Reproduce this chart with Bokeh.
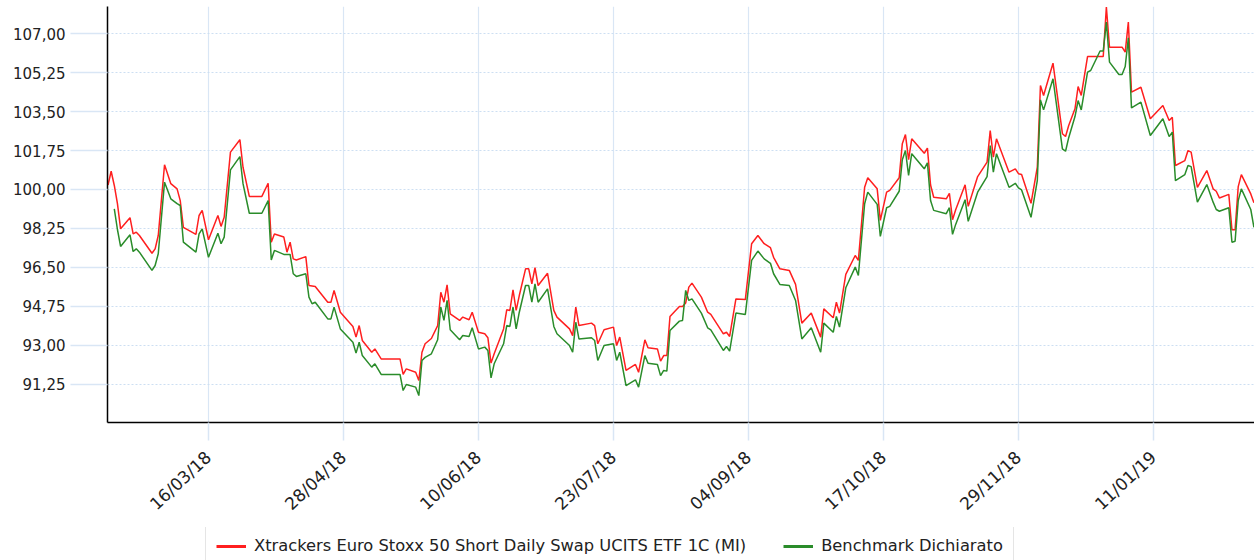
import numpy as np
import pandas as pd
from bokeh.plotting import figure
from bokeh.layouts import column
from bokeh.models import (FixedTicker, CustomJSTickFormatter, Legend, LegendItem,
                          Range1d, ColumnDataSource)
from bokeh.embed import file_html
from bokeh.resources import INLINE

# ---------------- data ----------------
dates = [
    "2018-02-12", "2018-02-13", "2018-02-14", "2018-02-15", "2018-02-16", "2018-02-19", "2018-02-20",
    "2018-02-21", "2018-02-22", "2018-02-26", "2018-02-27", "2018-02-28", "2018-03-02", "2018-03-04",
    "2018-03-06", "2018-03-07", "2018-03-08", "2018-03-12", "2018-03-13", "2018-03-14", "2018-03-16",
    "2018-03-19", "2018-03-20", "2018-03-21", "2018-03-23", "2018-03-26", "2018-03-27", "2018-03-29",
    "2018-04-02", "2018-04-04", "2018-04-05", "2018-04-06", "2018-04-09", "2018-04-10", "2018-04-11",
    "2018-04-12", "2018-04-13", "2018-04-16", "2018-04-17", "2018-04-18", "2018-04-19", "2018-04-23",
    "2018-04-24", "2018-04-25", "2018-04-27", "2018-05-01", "2018-05-02", "2018-05-03", "2018-05-04",
    "2018-05-07", "2018-05-08", "2018-05-10", "2018-05-16", "2018-05-17", "2018-05-18", "2018-05-21",
    "2018-05-22", "2018-05-23", "2018-05-24", "2018-05-26", "2018-05-28", "2018-05-29", "2018-05-30",
    "2018-05-31", "2018-06-01", "2018-06-04", "2018-06-05", "2018-06-07", "2018-06-08", "2018-06-10",
    "2018-06-12", "2018-06-13", "2018-06-14", "2018-06-15", "2018-06-18", "2018-06-19", "2018-06-20",
    "2018-06-21", "2018-06-22", "2018-06-23", "2018-06-25", "2018-06-26", "2018-06-27", "2018-06-28",
    "2018-06-29", "2018-07-02", "2018-07-04", "2018-07-05", "2018-07-09", "2018-07-10", "2018-07-11",
    "2018-07-12", "2018-07-16", "2018-07-17", "2018-07-18", "2018-07-20", "2018-07-23", "2018-07-24",
    "2018-07-25", "2018-07-27", "2018-07-30", "2018-07-31", "2018-08-02", "2018-08-03", "2018-08-06",
    "2018-08-07", "2018-08-08", "2018-08-09", "2018-08-10", "2018-08-13", "2018-08-14", "2018-08-15",
    "2018-08-16", "2018-08-17", "2018-08-20", "2018-08-22", "2018-08-23", "2018-08-27", "2018-08-28",
    "2018-08-29", "2018-08-31", "2018-09-03", "2018-09-05", "2018-09-07", "2018-09-09", "2018-09-11",
    "2018-09-12", "2018-09-14", "2018-09-17", "2018-09-19", "2018-09-21", "2018-09-24", "2018-09-27",
    "2018-09-28", "2018-10-01", "2018-10-02", "2018-10-03", "2018-10-05", "2018-10-08", "2018-10-09",
    "2018-10-11", "2018-10-12", "2018-10-15", "2018-10-16", "2018-10-18", "2018-10-19", "2018-10-22",
    "2018-10-23", "2018-10-24", "2018-10-25", "2018-10-26", "2018-10-30", "2018-10-31", "2018-11-01",
    "2018-11-02", "2018-11-06", "2018-11-07", "2018-11-08", "2018-11-09", "2018-11-12", "2018-11-13",
    "2018-11-16", "2018-11-19", "2018-11-20", "2018-11-21", "2018-11-22", "2018-11-26", "2018-11-28",
    "2018-11-29", "2018-11-30", "2018-12-03", "2018-12-05", "2018-12-06", "2018-12-07", "2018-12-10",
    "2018-12-13", "2018-12-14", "2018-12-15", "2018-12-17", "2018-12-18", "2018-12-19", "2018-12-21",
    "2018-12-22", "2018-12-25", "2018-12-26", "2018-12-27", "2018-12-28", "2018-12-31", "2019-01-01",
    "2019-01-02", "2019-01-03", "2019-01-04", "2019-01-07", "2019-01-10", "2019-01-14", "2019-01-16",
    "2019-01-17", "2019-01-18", "2019-01-21", "2019-01-22", "2019-01-23", "2019-01-25", "2019-01-28",
    "2019-01-30", "2019-01-31", "2019-02-01", "2019-02-04", "2019-02-05", "2019-02-06", "2019-02-07",
    "2019-02-08", "2019-02-11", "2019-02-12",
]

etf = [
    100.20, 100.82, 100.18, 99.36, 98.23, 98.73, 98.00,
    98.08, 97.93, 97.13, 97.33, 97.93, 101.11, 100.26,
    100.03, 99.50, 98.30, 97.98, 98.83, 99.06, 97.74,
    98.83, 98.34, 98.75, 101.68, 102.24, 101.00, 99.69,
    99.69, 100.28, 97.63, 98.00, 97.86, 97.18, 97.63,
    96.88, 96.83, 96.98, 95.68, 95.66, 95.64, 94.93,
    94.93, 95.46, 94.48, 93.84, 93.36, 93.88, 93.21,
    92.68, 92.83, 92.38, 92.38, 91.68, 91.93, 91.78,
    91.41, 92.68, 93.06, 93.30, 93.88, 95.38, 94.93,
    95.71, 94.41, 94.11, 94.26, 94.14, 94.48, 93.58,
    93.51, 93.33, 92.19, 92.61, 93.73, 94.59, 94.56,
    95.49, 94.56, 95.23, 96.43, 96.43, 95.76, 96.48,
    95.68, 96.23, 94.56, 94.26, 93.73, 93.43, 94.71,
    93.88, 93.99, 93.88, 93.06, 93.69, 93.81, 92.98,
    93.36, 91.86, 92.13, 91.78, 93.24, 92.88, 92.83,
    92.28, 92.53, 92.53, 94.29, 94.74, 94.74, 94.90,
    95.61, 95.79, 95.16, 94.48, 94.38, 93.51, 93.58,
    93.39, 95.08, 95.05, 97.56, 97.93, 97.56, 97.38,
    96.95, 96.43, 96.36, 95.73, 93.99, 94.44, 93.36,
    94.63, 94.23, 94.93, 94.44, 96.18, 97.03, 96.81,
    100.10, 100.53, 100.03, 98.61, 99.88, 99.96, 100.53,
    102.06, 102.47, 101.34, 102.28, 101.63, 101.86, 100.20,
    99.65, 99.58, 99.83, 98.64, 99.09, 100.21, 99.24,
    100.58, 101.23, 102.65, 101.45, 102.28, 100.78, 100.93,
    100.71, 100.67, 99.38, 101.00, 104.68, 104.23, 105.68,
    102.51, 102.38, 102.88, 103.63, 104.63, 104.23, 105.98,
    105.98, 105.98, 105.98, 108.20, 106.40, 106.40, 106.40,
    106.18, 107.53, 104.38, 104.60, 103.18, 103.78, 103.10,
    103.25, 101.08, 101.30, 101.75, 101.68, 100.10, 100.85,
    100.03, 99.92, 99.62, 99.78, 98.19, 98.19, 100.13,
    100.67, 99.80, 99.40,
]

benchmark = [
    None, None, 99.13, 98.20, 97.44, 97.96, 97.21,
    97.33, 97.18, 96.36, 96.58, 97.11, 100.33, 99.58,
    99.36, 99.28, 97.63, 97.18, 98.00, 98.23, 96.95,
    98.03, 97.56, 97.86, 100.88, 101.48, 100.26, 98.93,
    98.93, 99.50, 96.83, 97.26, 97.08, 97.08, 97.08,
    96.21, 96.09, 96.21, 95.16, 94.86, 94.93, 94.18,
    94.18, 94.71, 93.73, 93.13, 92.64, 93.13, 92.53,
    92.01, 92.16, 91.68, 91.68, 90.96, 91.23, 91.11,
    90.73, 92.31, 92.45, 92.61, 93.24, 94.71, 94.11,
    95.01, 93.69, 93.24, 93.43, 93.39, 93.78, 92.83,
    92.91, 92.76, 91.53, 92.16, 93.06, 93.88, 93.84,
    94.71, 93.73, 94.48, 95.68, 95.68, 94.93, 95.76,
    94.93, 95.53, 93.84, 93.51, 92.98, 92.68, 94.03,
    93.28, 93.33, 93.21, 92.31, 92.98, 93.06, 92.31,
    92.68, 91.18, 91.44, 91.11, 92.53, 92.19, 92.13,
    91.63, 91.86, 91.83, 93.66, 94.08, 94.11, 95.46,
    95.01, 95.08, 94.44, 93.78, 93.69, 92.76, 92.94,
    92.73, 94.44, 94.38, 96.81, 97.23, 96.88, 96.68,
    96.21, 95.73, 95.68, 95.01, 93.28, 93.78, 92.68,
    93.99, 93.58, 94.29, 93.81, 95.58, 96.51, 96.13,
    99.36, 99.88, 99.33, 97.89, 99.18, 99.24, 99.92,
    101.34, 101.75, 100.63, 101.61, 100.93, 101.20, 99.50,
    99.06, 98.91, 99.18, 97.98, 98.43, 99.54, 98.57,
    99.88, 100.58, 101.98, 100.78, 101.61, 100.10, 100.28,
    100.07, 99.98, 98.75, 100.40, 104.03, 103.58, 104.98,
    101.83, 101.72, 102.33, 103.28, 104.00, 103.58, 105.28,
    105.35, 106.23, 106.23, 107.53, 105.73, 105.17, 105.17,
    105.53, 106.82, 103.67, 103.93, 102.43, 103.18, 102.38,
    102.58, 100.40, 100.67, 101.08, 101.03, 99.43, 100.22,
    99.43, 99.10, 99.02, 99.18, 97.63, 97.67, 99.50,
    100.03, 99.10, 98.30,
]

series_names = ["Xtrackers Euro Stoxx 50 Short Daily Swap UCITS ETF 1C (MI)",
                "Benchmark Dichiarato"]

y_ticks = [89.50, 91.25, 93.00, 94.75, 96.50, 98.25, 100.00, 101.75, 103.50, 105.25, 107.00]
y_tick_labels = ["", "91,25", "93,00", "94,75", "96,50", "98,25", "100,00",
                 "101,75", "103,50", "105,25", "107,00"]

x_tick_dates = ["2018-03-16", "2018-04-28", "2018-06-10", "2018-07-23",
                "2018-09-04", "2018-10-17", "2018-11-29", "2019-01-11"]
x_tick_labels = ["16/03/18", "28/04/18", "10/06/18", "23/07/18",
                 "04/09/18", "17/10/18", "29/11/18", "11/01/19"]

# ---------------- figure ----------------
FONT = "DejaVu Sans"
GRID_BLUE = "#d9e6f5"
RED = "#ff1f1f"
GREEN = "#2a8c2a"

source = ColumnDataSource(dict(
    x=pd.to_datetime(dates),
    etf=np.array(etf, dtype=float),
    bench=np.array([np.nan if v is None else v for v in benchmark], dtype=float),
))

x_start = pd.Timestamp(dates[0]) - pd.Timedelta(hours=4)
x_end = x_start + pd.Timedelta(days=365.35)

p = figure(width=1254, height=527, x_axis_type="datetime",
           x_range=Range1d(x_start, x_end), y_range=Range1d(89.52, 108.23),
           output_backend="svg", toolbar_location=None,
           min_border_left=107, min_border_right=0, min_border_top=6,
           min_border_bottom=105)
p.outline_line_color = None
p.background_fill_color = "white"
p.border_fill_color = "white"

r_etf = p.line("x", "etf", source=source, line_color=RED, line_width=1.5)
r_bench = p.line("x", "bench", source=source, line_color=GREEN, line_width=1.5)

fmt_code = """
const i = vals.findIndex(v => Math.abs(v - tick) < 1e-6 * Math.max(1, Math.abs(v)));
return i >= 0 ? labs[i] : "";
"""

# y axis
yax = p.yaxis[0]
yax.ticker = FixedTicker(ticks=y_ticks)
yax.formatter = CustomJSTickFormatter(args=dict(vals=y_ticks, labs=y_tick_labels), code=fmt_code)
yax.major_tick_out = 37
yax.major_tick_in = 0
yax.major_tick_line_color = GRID_BLUE
yax.major_tick_line_width = 1.5
yax.minor_tick_line_color = None
yax.axis_line_color = "black"
yax.axis_line_width = 1.5
yax.major_label_text_font = FONT
yax.major_label_text_font_size = "15px"
yax.major_label_text_color = "#222222"
yax.major_label_standoff = 5

# x axis
x_tick_ms = [float(t.value // 10**6) for t in pd.to_datetime(x_tick_dates)]
xax = p.xaxis[0]
xax.ticker = FixedTicker(ticks=x_tick_ms)
xax.formatter = CustomJSTickFormatter(args=dict(vals=x_tick_ms, labs=x_tick_labels), code=fmt_code)
xax.major_tick_out = 18
xax.major_tick_in = 0
xax.major_tick_line_color = GRID_BLUE
xax.major_tick_line_width = 1.5
xax.minor_tick_line_color = None
xax.axis_line_color = "black"
xax.axis_line_width = 1.5
xax.major_label_text_font = FONT
xax.major_label_text_font_size = "17px"
xax.major_label_text_color = "#222222"
xax.major_label_orientation = 0.75
xax.major_label_standoff = 14

# grids
p.xgrid.grid_line_color = GRID_BLUE
p.xgrid.grid_line_width = 1.2
p.ygrid.grid_line_color = "#cddff2"
p.ygrid.grid_line_dash = "2 2"
p.ygrid.grid_line_width = 1

# ---------------- legend strip below the chart ----------------
lf = figure(width=1254, height=33, x_range=Range1d(0, 1), y_range=Range1d(0, 1),
            output_backend="svg", toolbar_location=None,
            min_border_left=107, min_border_right=0, min_border_top=0, min_border_bottom=0)
lf.axis.visible = False
lf.grid.visible = False
lf.outline_line_color = None
lf.background_fill_color = "white"
lf.border_fill_color = "white"

# legend sample renderers (thick strokes, not drawn)
l_etf = lf.line("x", "etf", source=source, line_color=RED, line_width=3, visible=False)
l_bench = lf.line("x", "bench", source=source, line_color=GREEN, line_width=3, visible=False)

legend = Legend(items=[LegendItem(label=series_names[0], renderers=[l_etf]),
                       LegendItem(label=series_names[1], renderers=[l_bench])],
                orientation="horizontal", location=(98, -6),
                border_line_color="#cccccc", border_line_width=1.5,
                background_fill_color="white", background_fill_alpha=1.0,
                label_text_font=FONT, label_text_font_size="16.3px",
                label_text_color="#222222",
                glyph_width=30, glyph_height=16, label_height=16,
                label_standoff=8, spacing=37, padding=10, margin=0)
lf.add_layout(legend)

layout = column(p, lf, spacing=0)
open("out.html", "w").write(file_html(layout, INLINE))
